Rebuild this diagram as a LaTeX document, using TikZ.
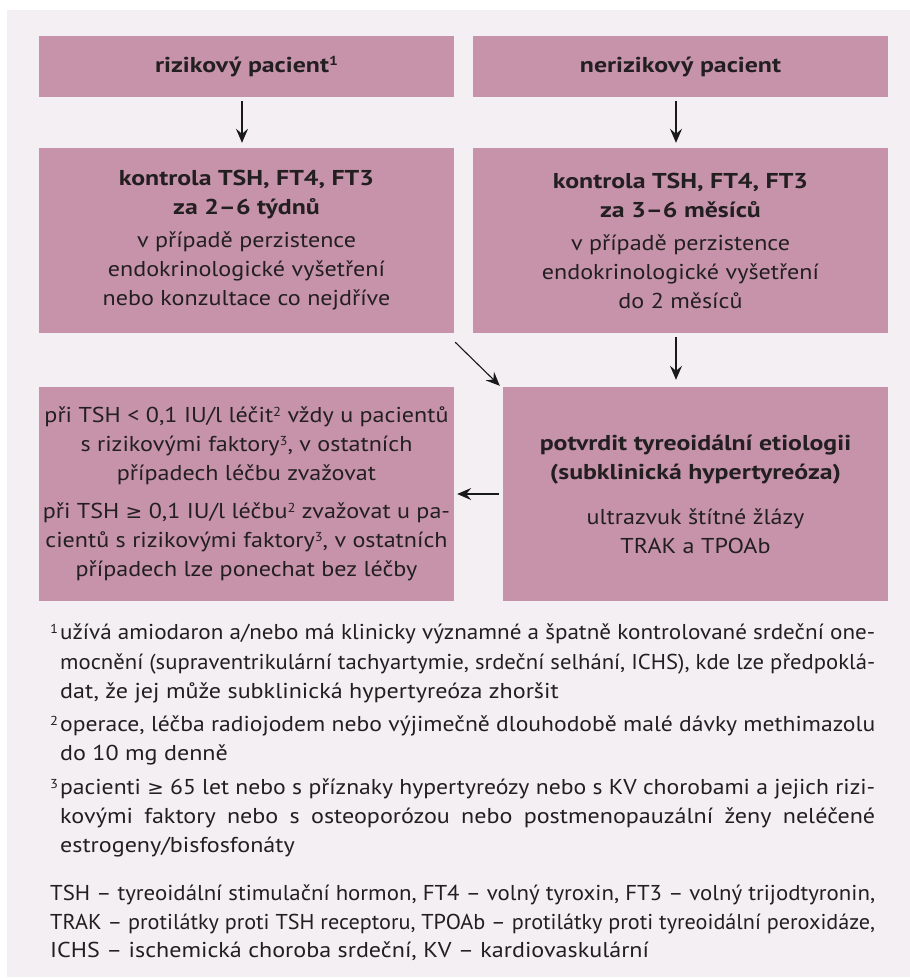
\documentclass[tikz,border=0pt]{standalone}
\usepackage{fontspec}
\setmainfont{PT Sans}[FakeStretch=1.12, BoldFeatures={FakeStretch=1.2}]
\newfontfamily\dejavu{DejaVu Sans}[FakeStretch=1.05]
\usepackage{graphicx}
\usetikzlibrary{arrows.meta}
\definecolor{boxpink}{RGB}{198,147,170}
\definecolor{bgpink}{RGB}{244,239,242}
\definecolor{txt}{RGB}{35,31,32}
\newcommand\geqsym{{\dejavu\fontsize{19}{19}\selectfont ≥}}
\newcommand\sups[1]{\raisebox{6.5pt}{\fontsize{13}{13}\selectfont #1}}
\newsavebox\jbox
\newcommand\jline[2]{\sbox\jbox{#2}\ifdim\wd\jbox>#1pt\relax\pgfmathsetmacro\jr{#1/\the\wd\jbox}\scalebox{\jr}[1]{\usebox\jbox}\else\makebox[#1pt][s]{#2}\fi}
\tikzset{
  box/.style={fill=boxpink, inner sep=0pt, align=center, text=txt, font=\fontsize{21.5}{29}\selectfont},
  arr/.style={-{Stealth[length=14pt,width=12pt,inset=5pt]}, line width=1.1pt, draw=black!90},
  fn/.style={anchor=mid west, inner sep=0pt, text=txt, font=\fontsize{21.5}{29}\selectfont},
}
\begin{document}
\begin{tikzpicture}[x=1pt,y=-1pt]
\useasboundingbox (0,0) rectangle (910,978);
\fill[bgpink] (7,10) rectangle (910,977);

\node[box, minimum width=415pt, minimum height=61pt] (tl) at (246.5,66.5) {\textbf{rizikový pacient\sups{1}}};
\node[box, minimum width=415pt, minimum height=61pt] (tr) at (680.5,66.5) {\textbf{nerizikový pacient}};

\node[box, minimum width=415pt, minimum height=185pt] (ml) at (246.5,240.5)
  {\textbf{kontrola TSH, FT4, FT3}\\ \textbf{za 2–6 týdnů}\\[4pt] v případě perzistence\\ endokrinologické vyšetření\\ nebo konzultace co nejdříve};
\node[box, minimum width=415pt, minimum height=185pt] (mr) at (680.5,240.5)
  {\textbf{kontrola TSH, FT4, FT3}\\ \textbf{za 3–6 měsíců}\\[4pt] v případě perzistence\\ endokrinologické vyšetření\\ do 2 měsíců};

\node[box, minimum width=415pt, minimum height=214pt] (bl) at (246.5,494)
  {při TSH < 0,1 IU/l léčit\sups{2} vždy u pacientů\\ s rizikovými faktory\sups{3}, v ostatních\\ případech léčbu zvažovat\\[9pt]
   při TSH \geqsym{} 0,1 IU/l léčbu\sups{2} zvažovat u pa-\\ cientů s rizikovými faktory\sups{3}, v ostatních\\ případech lze ponechat bez léčby};
\node[box, minimum width=385pt, minimum height=214pt] (br) at (695.5,494)
  {\textbf{potvrdit tyreoidální etiologii}\\ \textbf{(subklinická hypertyreóza)}\\[16pt] ultrazvuk štítné žlázy\\ TRAK a TPOAb};

\draw[arr] ([shift={(-4.5,4)}]tl.south) -- ([shift={(-4.5,-5)}]ml.north);
\draw[arr] ([shift={(-4.5,4)}]tr.south) -- ([shift={(-4.5,-5)}]mr.north);
\coordinate (c1) at (mr.south |- br.north);
\draw[arr] ([shift={(-4.5,4)}]mr.south) -- ([shift={(-4.5,-7)}]c1);
\draw[arr] ([shift={(1,9)}]ml.south east) -- ([shift={(-3,-1)}]br.north west);
\draw[arr] ([xshift=-4pt]br.west) -- ([xshift=3pt]bl.east);

\node[fn] (f1a) at (50,637) {\makebox[10pt][l]{\sups{1}}\jline{815}{užívá amiodaron a/nebo má klinicky významné a špatně kontrolované srdeční one-}};
\node[fn] (f1b) at (60,667) {\jline{815}{mocnění (supraventrikulární tachyartymie, srdeční selhání, ICHS), kde lze předpoklá-}};
\node[fn] (f1c) at (60,696) {dat, že jej může subklinická hypertyreóza zhoršit};
\node[fn] (f2a) at (50,729) {\makebox[10pt][l]{\sups{2}}\jline{815}{operace, léčba radiojodem nebo výjimečně dlouhodobě malé dávky methimazolu}};
\node[fn] (f2b) at (60,758) {do 10 mg denně};
\node[fn] (f3a) at (50,792) {\makebox[10pt][l]{\sups{3}}\jline{815}{pacienti \geqsym{} 65 let nebo s příznaky hypertyreózy nebo s KV chorobami a jejich rizi-}};
\node[fn] (f3b) at (60,821) {\jline{815}{kovými faktory nebo s osteoporózou nebo postmenopauzální ženy neléčené}};
\node[fn] (f3c) at (60,850) {estrogeny/bisfosfonáty};

\node[fn] (a1) at (50,898) {\jline{825}{TSH – tyreoidální stimulační hormon, FT4 – volný tyroxin, FT3 – volný trijodtyronin,}};
\node[fn] (a2) at (50,927) {\jline{825}{TRAK – protilátky proti TSH receptoru, TPOAb – protilátky proti tyreoidální peroxidáze,}};
\node[fn] (a3) at (50,955) {ICHS – ischemická choroba srdeční, KV – kardiovaskulární};
\end{tikzpicture}
\end{document}
